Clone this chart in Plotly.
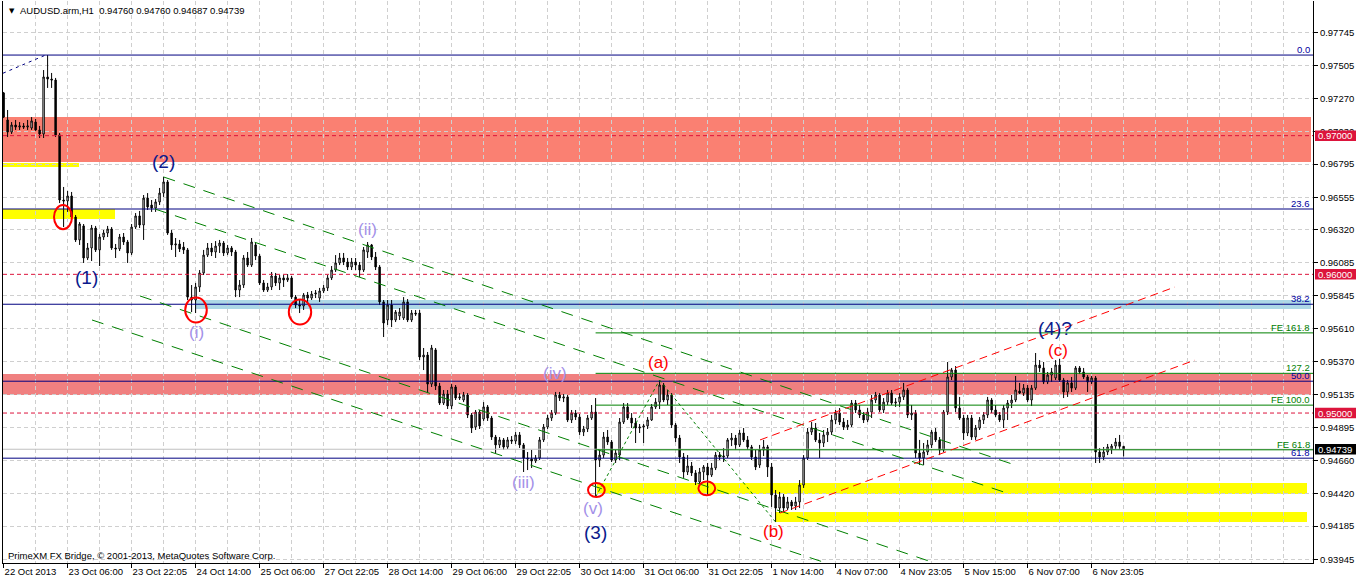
import plotly.graph_objects as go

# ---------------- data (AUDUSD H1) ----------------
opens = [
 0.97308, 0.97113, 0.97026, 0.97077, 0.97062, 0.97070, 0.97062, 0.97055,
 0.97098, 0.97041, 0.97012, 0.97423, 0.97408, 0.97401, 0.97005, 0.96536,
 0.96529, 0.96565, 0.96413, 0.96248, 0.96349, 0.96118, 0.96190, 0.96334,
 0.96176, 0.96269, 0.96298, 0.96327, 0.96190, 0.96183, 0.96269, 0.96233,
 0.96154, 0.96341, 0.96421, 0.96356, 0.96550, 0.96500, 0.96478, 0.96522,
 0.96586, 0.96666, 0.96298, 0.96212, 0.96219, 0.96197, 0.96176, 0.95836,
 0.95815, 0.95909, 0.96010, 0.96139, 0.96190, 0.96161, 0.96204, 0.96226,
 0.96154, 0.96190, 0.96161, 0.95887, 0.95923, 0.96118, 0.96067, 0.96212,
 0.96132, 0.95938, 0.95887, 0.95909, 0.95988, 0.95938, 0.95974, 0.95959,
 0.95974, 0.95836, 0.95779, 0.95772, 0.95851, 0.95829, 0.95858, 0.95829,
 0.95880, 0.95902, 0.95974, 0.96031, 0.96082, 0.96118, 0.96089, 0.96053,
 0.96089, 0.96067, 0.96031, 0.96161, 0.96212, 0.96125, 0.96053, 0.95801,
 0.95671, 0.95779, 0.95671, 0.95700, 0.95685, 0.95801, 0.95671, 0.95721,
 0.95721, 0.95404, 0.95418, 0.95209, 0.95455, 0.95195, 0.95072, 0.95137,
 0.95051, 0.95188, 0.95108, 0.95094, 0.95130, 0.94986, 0.94899, 0.95007,
 0.94957, 0.95044, 0.94964, 0.94827, 0.94770, 0.94806, 0.94755, 0.94806,
 0.94798, 0.94842, 0.94770, 0.94676, 0.94669, 0.94654, 0.94676, 0.94806,
 0.94899, 0.94964, 0.95000, 0.95130, 0.95108, 0.95116, 0.94950, 0.95000,
 0.94971, 0.94863, 0.94885, 0.94964, 0.95007, 0.94661, 0.94697, 0.94827,
 0.94791, 0.94661, 0.94697, 0.94935, 0.95044, 0.94964, 0.94928, 0.94892,
 0.94899, 0.94907, 0.94950, 0.95044, 0.95079, 0.95202, 0.95094, 0.95130,
 0.94914, 0.94820, 0.94683, 0.94575, 0.94618, 0.94568, 0.94503, 0.94575,
 0.94611, 0.94553, 0.94604, 0.94697, 0.94683, 0.94690, 0.94806, 0.94820,
 0.94770, 0.94856, 0.94806, 0.94755, 0.94683, 0.94625, 0.94734, 0.94755,
 0.94611, 0.94409, 0.94315, 0.94395, 0.94315, 0.94359, 0.94330, 0.94359,
 0.94481, 0.94676, 0.94863, 0.94892, 0.94806, 0.94784, 0.94842, 0.94863,
 0.94950, 0.95000, 0.94935, 0.94899, 0.94914, 0.95072, 0.95022, 0.94986,
 0.94950, 0.95007, 0.95094, 0.95130, 0.95022, 0.95079, 0.95144, 0.95072,
 0.95079, 0.95116, 0.95166, 0.94986, 0.95000, 0.94712, 0.94676, 0.94719,
 0.94770, 0.94863, 0.94806, 0.94734, 0.95007, 0.95260, 0.95310, 0.95036,
 0.94964, 0.94856, 0.94964, 0.94827, 0.94892, 0.94950, 0.94986, 0.95094,
 0.95022, 0.94986, 0.94950, 0.95036, 0.95072, 0.95094, 0.95159, 0.95144,
 0.95180, 0.95094, 0.95180, 0.95346, 0.95325, 0.95224, 0.95274, 0.95253,
 0.95346, 0.95238, 0.95152, 0.95217, 0.95180, 0.95325, 0.95296, 0.95260,
 0.95224, 0.95253, 0.94719, 0.94683, 0.94719, 0.94741, 0.94762, 0.94791,
 0.94760,
]
highs = [
 0.97315, 0.97185, 0.97098, 0.97113, 0.97098, 0.97091, 0.97113, 0.97134,
 0.97120, 0.97070, 0.97473, 0.97581, 0.97452, 0.97416, 0.97019, 0.96630,
 0.96601, 0.96594, 0.96428, 0.96377, 0.96363, 0.96226, 0.96356, 0.96349,
 0.96291, 0.96320, 0.96349, 0.96341, 0.96219, 0.96291, 0.96298, 0.96248,
 0.96363, 0.96442, 0.96457, 0.96572, 0.96586, 0.96536, 0.96543, 0.96623,
 0.96702, 0.96680, 0.96320, 0.96262, 0.96248, 0.96233, 0.96190, 0.95923,
 0.95938, 0.96031, 0.96176, 0.96226, 0.96226, 0.96240, 0.96248, 0.96240,
 0.96212, 0.96204, 0.96176, 0.95959, 0.96139, 0.96161, 0.96262, 0.96233,
 0.96147, 0.95959, 0.95938, 0.96017, 0.96010, 0.95995, 0.95995, 0.96002,
 0.95988, 0.95851, 0.95815, 0.95865, 0.95873, 0.95880, 0.95887, 0.95902,
 0.95923, 0.95995, 0.96060, 0.96139, 0.96154, 0.96154, 0.96118, 0.96118,
 0.96118, 0.96089, 0.96197, 0.96233, 0.96219, 0.96161, 0.96067, 0.95815,
 0.95815, 0.95815, 0.95743, 0.95757, 0.95836, 0.95822, 0.95743, 0.95743,
 0.95743, 0.95469, 0.95440, 0.95491, 0.95469, 0.95217, 0.95166, 0.95166,
 0.95209, 0.95202, 0.95144, 0.95152, 0.95144, 0.95000, 0.95022, 0.95022,
 0.95079, 0.95058, 0.94979, 0.94842, 0.94827, 0.94820, 0.94827, 0.94834,
 0.94863, 0.94863, 0.94784, 0.94719, 0.94734, 0.94697, 0.94827, 0.94921,
 0.94986, 0.95022, 0.95152, 0.95152, 0.95137, 0.95130, 0.95022, 0.95022,
 0.94993, 0.94907, 0.94986, 0.95058, 0.95108, 0.94734, 0.94863, 0.94878,
 0.94806, 0.94734, 0.94964, 0.95072, 0.95072, 0.95000, 0.94964, 0.94921,
 0.94921, 0.94971, 0.95065, 0.95108, 0.95238, 0.95217, 0.95166, 0.95144,
 0.94928, 0.94842, 0.94712, 0.94697, 0.94647, 0.94589, 0.94604, 0.94625,
 0.94640, 0.94640, 0.94719, 0.94719, 0.94748, 0.94820, 0.94856, 0.94842,
 0.94878, 0.94892, 0.94834, 0.94770, 0.94734, 0.94770, 0.94806, 0.94770,
 0.94640, 0.94445, 0.94431, 0.94416, 0.94395, 0.94373, 0.94395, 0.94517,
 0.94697, 0.94892, 0.94935, 0.94928, 0.94856, 0.94878, 0.94892, 0.94986,
 0.95022, 0.95036, 0.94964, 0.94950, 0.95094, 0.95094, 0.95058, 0.95007,
 0.95036, 0.95130, 0.95152, 0.95144, 0.95108, 0.95166, 0.95166, 0.95108,
 0.95144, 0.95217, 0.95180, 0.95058, 0.95022, 0.94806, 0.94784, 0.94806,
 0.94878, 0.94892, 0.94827, 0.95022, 0.95368, 0.95325, 0.95339, 0.95116,
 0.94986, 0.94986, 0.94986, 0.94914, 0.94971, 0.95007, 0.95116, 0.95108,
 0.95058, 0.95007, 0.95058, 0.95094, 0.95130, 0.95267, 0.95217, 0.95209,
 0.95202, 0.95202, 0.95433, 0.95382, 0.95368, 0.95296, 0.95325, 0.95382,
 0.95390, 0.95253, 0.95238, 0.95260, 0.95339, 0.95339, 0.95325, 0.95274,
 0.95267, 0.95267, 0.94748, 0.94755, 0.94777, 0.94777, 0.94820, 0.94842,
 0.94760,
]
lows = [
 0.97127, 0.96990, 0.97012, 0.97041, 0.97041, 0.97048, 0.97041, 0.97041,
 0.97034, 0.96983, 0.96983, 0.97344, 0.97344, 0.96990, 0.96514, 0.96341,
 0.96450, 0.96392, 0.96233, 0.96212, 0.96082, 0.96103, 0.96096, 0.96161,
 0.96060, 0.96248, 0.96269, 0.96176, 0.96118, 0.96168, 0.96212, 0.96082,
 0.96139, 0.96327, 0.96334, 0.96248, 0.96464, 0.96450, 0.96450, 0.96500,
 0.96558, 0.96284, 0.96176, 0.96125, 0.96161, 0.96147, 0.95815, 0.95728,
 0.95721, 0.95873, 0.95995, 0.96125, 0.96132, 0.96118, 0.96154, 0.96132,
 0.96139, 0.96132, 0.95836, 0.95836, 0.95902, 0.96053, 0.96053, 0.96103,
 0.95923, 0.95873, 0.95873, 0.95887, 0.95916, 0.95887, 0.95909, 0.95945,
 0.95822, 0.95757, 0.95721, 0.95743, 0.95801, 0.95815, 0.95829, 0.95801,
 0.95865, 0.95880, 0.95959, 0.96017, 0.96067, 0.96067, 0.96031, 0.96031,
 0.96031, 0.95981, 0.96017, 0.96118, 0.96103, 0.96031, 0.95779, 0.95548,
 0.95635, 0.95620, 0.95656, 0.95671, 0.95671, 0.95656, 0.95656, 0.95700,
 0.95382, 0.95310, 0.95144, 0.95188, 0.95166, 0.95058, 0.95058, 0.95029,
 0.95029, 0.95094, 0.95094, 0.95079, 0.94964, 0.94856, 0.94878, 0.94885,
 0.94943, 0.94943, 0.94806, 0.94712, 0.94748, 0.94734, 0.94741, 0.94777,
 0.94777, 0.94748, 0.94575, 0.94589, 0.94604, 0.94640, 0.94661, 0.94791,
 0.94885, 0.94943, 0.94986, 0.95087, 0.95079, 0.94935, 0.94928, 0.94950,
 0.94842, 0.94834, 0.94863, 0.94950, 0.94395, 0.94611, 0.94676, 0.94770,
 0.94647, 0.94640, 0.94661, 0.94921, 0.94950, 0.94892, 0.94784, 0.94856,
 0.94784, 0.94885, 0.94943, 0.95029, 0.95029, 0.95079, 0.95058, 0.94892,
 0.94791, 0.94640, 0.94532, 0.94553, 0.94546, 0.94481, 0.94481, 0.94517,
 0.94409, 0.94539, 0.94589, 0.94661, 0.94647, 0.94676, 0.94762, 0.94734,
 0.94755, 0.94791, 0.94734, 0.94661, 0.94589, 0.94604, 0.94690, 0.94539,
 0.94323, 0.94214, 0.94279, 0.94286, 0.94301, 0.94301, 0.94301, 0.94315,
 0.94460, 0.94661, 0.94842, 0.94791, 0.94676, 0.94755, 0.94791, 0.94842,
 0.94921, 0.94914, 0.94878, 0.94878, 0.94899, 0.95000, 0.94964, 0.94928,
 0.94935, 0.94964, 0.95072, 0.95007, 0.95000, 0.95058, 0.95058, 0.95044,
 0.95044, 0.95094, 0.94964, 0.94950, 0.94676, 0.94625, 0.94625, 0.94697,
 0.94748, 0.94791, 0.94697, 0.94719, 0.94986, 0.95238, 0.95007, 0.94950,
 0.94806, 0.94834, 0.94806, 0.94806, 0.94878, 0.94921, 0.94964, 0.95000,
 0.94971, 0.94935, 0.94892, 0.94950, 0.95036, 0.95079, 0.95137, 0.95123,
 0.95079, 0.95051, 0.95166, 0.95296, 0.95209, 0.95209, 0.95224, 0.95238,
 0.95224, 0.95108, 0.95116, 0.95152, 0.95166, 0.95281, 0.95245, 0.95152,
 0.95209, 0.94640, 0.94640, 0.94661, 0.94697, 0.94705, 0.94741, 0.94741,
 0.94687,
]
closes = [
 0.97134, 0.97026, 0.97077, 0.97062, 0.97070, 0.97062, 0.97070, 0.97106,
 0.97041, 0.97012, 0.97423, 0.97408, 0.97401, 0.97005, 0.96536, 0.96529,
 0.96565, 0.96413, 0.96248, 0.96363, 0.96118, 0.96190, 0.96334, 0.96176,
 0.96269, 0.96298, 0.96327, 0.96190, 0.96183, 0.96269, 0.96233, 0.96154,
 0.96341, 0.96421, 0.96356, 0.96550, 0.96486, 0.96478, 0.96522, 0.96586,
 0.96666, 0.96298, 0.96212, 0.96219, 0.96183, 0.96176, 0.95836, 0.95815,
 0.95909, 0.96010, 0.96139, 0.96190, 0.96161, 0.96204, 0.96226, 0.96154,
 0.96190, 0.96161, 0.95887, 0.95923, 0.96118, 0.96067, 0.96233, 0.96132,
 0.95938, 0.95887, 0.95909, 0.95988, 0.95938, 0.95974, 0.95959, 0.95974,
 0.95836, 0.95779, 0.95772, 0.95851, 0.95829, 0.95858, 0.95865, 0.95880,
 0.95902, 0.95974, 0.96031, 0.96082, 0.96118, 0.96089, 0.96053, 0.96089,
 0.96067, 0.96031, 0.96176, 0.96212, 0.96125, 0.96053, 0.95801, 0.95649,
 0.95779, 0.95671, 0.95728, 0.95728, 0.95801, 0.95671, 0.95721, 0.95714,
 0.95404, 0.95418, 0.95209, 0.95469, 0.95195, 0.95072, 0.95137, 0.95051,
 0.95188, 0.95108, 0.95116, 0.95130, 0.94986, 0.94892, 0.95007, 0.94907,
 0.95044, 0.94964, 0.94827, 0.94770, 0.94806, 0.94755, 0.94806, 0.94798,
 0.94842, 0.94770, 0.94676, 0.94669, 0.94654, 0.94676, 0.94806, 0.94899,
 0.94964, 0.95000, 0.95130, 0.95108, 0.95116, 0.94950, 0.95000, 0.94971,
 0.94863, 0.94885, 0.94964, 0.95007, 0.94661, 0.94697, 0.94827, 0.94791,
 0.94661, 0.94712, 0.94935, 0.95044, 0.94964, 0.94928, 0.94892, 0.94899,
 0.94907, 0.94950, 0.95044, 0.95079, 0.95202, 0.95094, 0.95130, 0.94914,
 0.94820, 0.94683, 0.94575, 0.94618, 0.94568, 0.94503, 0.94575, 0.94611,
 0.94553, 0.94604, 0.94697, 0.94683, 0.94690, 0.94806, 0.94820, 0.94770,
 0.94856, 0.94806, 0.94755, 0.94683, 0.94611, 0.94734, 0.94755, 0.94611,
 0.94409, 0.94315, 0.94395, 0.94315, 0.94359, 0.94330, 0.94359, 0.94481,
 0.94676, 0.94863, 0.94892, 0.94806, 0.94784, 0.94842, 0.94863, 0.94950,
 0.95000, 0.94935, 0.94899, 0.94914, 0.95072, 0.95022, 0.94986, 0.94950,
 0.95007, 0.95094, 0.95130, 0.95022, 0.95079, 0.95144, 0.95072, 0.95079,
 0.95116, 0.95166, 0.94986, 0.95000, 0.94712, 0.94676, 0.94719, 0.94770,
 0.94863, 0.94806, 0.94734, 0.95007, 0.95260, 0.95310, 0.95036, 0.94964,
 0.94856, 0.94964, 0.94827, 0.94892, 0.94950, 0.94986, 0.95094, 0.95022,
 0.94986, 0.94950, 0.95036, 0.95072, 0.95094, 0.95166, 0.95144, 0.95180,
 0.95094, 0.95180, 0.95346, 0.95325, 0.95224, 0.95274, 0.95296, 0.95346,
 0.95238, 0.95152, 0.95217, 0.95180, 0.95325, 0.95296, 0.95260, 0.95224,
 0.95253, 0.94719, 0.94683, 0.94719, 0.94755, 0.94762, 0.94791, 0.94760,
 0.94739,
]
bars = list(range(len(closes)))

time_labels = ["22 Oct 2013", "23 Oct 06:00", "23 Oct 22:05", "24 Oct 14:00",
               "25 Oct 06:00", "27 Oct 22:05", "28 Oct 14:00", "29 Oct 06:00",
               "29 Oct 22:05", "30 Oct 14:00", "31 Oct 06:00", "31 Oct 22:05",
               "1 Nov 14:00", "4 Nov 07:00", "4 Nov 23:05", "5 Nov 15:00",
               "6 Nov 07:00", "6 Nov 23:05"]
bars_per_label = 16
bars_per_grid = 8

price_ticks = [0.93945, 0.94185, 0.94420, 0.94660, 0.94895, 0.95135, 0.95370,
               0.95610, 0.95845, 0.96085, 0.96320, 0.96555, 0.96795, 0.97030,
               0.97270, 0.97505, 0.97745]

# Fibonacci retracement (0 / 100 anchors) and levels
fib_0, fib_100 = 0.97581, 0.92878
fib_levels = [0.0, 23.6, 38.2, 50.0, 61.8, 78.6]
fib_texts = ["0.0", "23.6", "38.2", "50.0", "61.8", "78.6"]
# Fibonacci expansion anchors: (v) low, (a) high, (b) low
fe_bars = [148, 164, 193]
fe_prices = [0.94395, 0.95238, 0.94214]
fe_levels = [61.8, 100.0, 127.2, 161.8]
fe_texts = ["FE 61.8", "FE 100.0", "127.2", "FE 161.8"]

round_levels = [0.97000, 0.96000, 0.95000]
title_text = "AUDUSD.arm,H1  0.94760 0.94760 0.94687 0.94739"
footer_text = "PrimeXM FX Bridge, \u00a9 2001-2013, MetaQuotes Software Corp."

# zones: [bar_from, bar_to, price_low, price_high]
salmon_zones = [[-0.15, 326.85, 0.96810, 0.97134]]
coral_zones = [[-0.15, 326.85, 0.95130, 0.95281]]
yellow_zones = [[-0.15, 18.85, 0.96774, 0.96803],
                [-0.15, 27.85, 0.96399, 0.96471],
                [148.35, 325.85, 0.94416, 0.94496],
                [192.9, 325.85, 0.94214, 0.94286]]
blue_zones = [[47.85, 326.85, 0.95750, 0.95815]]

# trend lines: [bar0, price0, bar1, price1]
green_channel = [[40.0, 0.96702, 253.6, 0.94618],
                 [37.85, 0.96471, 250.85, 0.94423],
                 [34.1, 0.95844, 240.0, 0.93849],
                 [22.1, 0.95671, 210.0, 0.93877]]
red_channel = [[189.1, 0.94806, 292.85, 0.95909],
               [194.1, 0.94279, 297.85, 0.95382]]
navy_dotted = [[-0.15, 0.97450, 10.5, 0.97581]]

# red circles: [bar_center, price_center, half_width_bars, half_height_price]
circles = [[14.85, 0.96413, 2.25, 0.00087],
           [48.1, 0.95743, 2.7, 0.00090],
           [74.1, 0.95728, 2.8, 0.00090],
           [148.2, 0.94445, 2.1, 0.00050],
           [175.8, 0.94457, 2.1, 0.00050]]

# Elliott wave labels: (text, bar, price)
primary_waves = [("(1)", 20.6, 0.95974), ("(2)", 39.85, 0.96812),
                 ("(3)", 147.85, 0.94142), ("(4)?", 262.85, 0.95611)]
minor_waves = [("(i)", 48.1, 0.95584), ("(ii)", 90.85, 0.96320),
               ("(iii)", 129.85, 0.94496), ("(iv)", 137.85, 0.95287),
               ("(v)", 147.4, 0.94313)]
abc_waves = [("(a)", 163.7, 0.95363), ("(b)", 192.4, 0.94144),
             ("(c)", 263.7, 0.95449)]

# ---------------- layout constants ----------------
W, H = 1356, 581
ML, MR, MT, MB = 3, 43, 1, 18
PLOT_W = W - ML - MR
X_LEFT, X_RIGHT = -0.15, 327.35
Y_MIN, Y_MAX = 0.939188, 0.979708
FONT = "Liberation Sans, Arial, sans-serif"
GRID = "#cfcfcf"
NAVY = "#000080"
GREEN = "#008000"
CRIMSON = "#DC143C"

def px_x(px):
    return (px - ML) / PLOT_W

def paper_y(price):
    return (price - Y_MIN) / (Y_MAX - Y_MIN)

fig = go.Figure()
fig.add_trace(go.Candlestick(
    x=bars, open=opens, high=highs, low=lows, close=closes,
    increasing=dict(line=dict(color="black", width=1), fillcolor="white"),
    decreasing=dict(line=dict(color="black", width=1), fillcolor="black"),
    whiskerwidth=0, hoverinfo="skip", showlegend=False))

shapes = []
def add_zone(z, color):
    shapes.append(dict(type="rect", xref="x", yref="y", x0=z[0], x1=z[1], y0=z[2], y1=z[3],
                       fillcolor=color, line=dict(width=0), layer="below"))
for z in salmon_zones:
    add_zone(z, "#FA8072")
for z in coral_zones:
    add_zone(z, "#F08080")
for z in yellow_zones:
    add_zone(z, "#FFFF00")
for z in blue_zones:
    add_zone(z, "#ADD8E6")

def add_line(x0, y0, x1, y1, color, dash="solid", width=1):
    shapes.append(dict(type="line", xref="x", yref="y", x0=x0, y0=y0, x1=x1, y1=y1,
                       line=dict(color=color, width=width, dash=dash), layer="above"))

# bid line
add_line(X_LEFT, closes[-1], X_RIGHT, closes[-1], "#c0c0c0")
# round-number levels
for p in round_levels:
    add_line(X_LEFT, p, X_RIGHT, p, CRIMSON, dash="4px,3px")
# fibonacci retracement
fib_prices = [fib_0 - lv / 100.0 * (fib_0 - fib_100) for lv in fib_levels]
for p in fib_prices:
    add_line(X_LEFT, p, X_RIGHT, p, NAVY)
# fibonacci expansion
fe_unit = fe_prices[1] - fe_prices[0]
fe_prices_lv = [fe_prices[2] + lv / 100.0 * fe_unit for lv in fe_levels]
for p in fe_prices_lv:
    add_line(fe_bars[0], p, X_RIGHT, p, GREEN)
for k in range(2):
    add_line(fe_bars[k], fe_prices[k], fe_bars[k + 1], fe_prices[k + 1], GREEN, dash="3px,3px")
# channels
for l in green_channel:
    add_line(l[0], l[1], l[2], l[3], GREEN, dash="12px,9px")
for l in red_channel:
    add_line(l[0], l[1], l[2], l[3], "#FF0000", dash="8px,5px")
for l in navy_dotted:
    add_line(l[0], l[1], l[2], l[3], NAVY, dash="3px,4px")
# circles
for c in circles:
    shapes.append(dict(type="circle", xref="x", yref="y",
                       x0=c[0] - c[2], x1=c[0] + c[2], y0=c[1] - c[3], y1=c[1] + c[3],
                       line=dict(color="#FF0000", width=2), layer="above"))

# price boxes on the right axis
box_half = 0.00038
box_prices = round_levels + [closes[-1]]
box_colors = [CRIMSON, CRIMSON, CRIMSON, "black"]
for p, col in zip(box_prices, box_colors):
    shapes.append(dict(type="rect", xref="paper", yref="paper",
                       x0=px_x(1315), x1=px_x(1356),
                       y0=paper_y(p - box_half), y1=paper_y(p + box_half),
                       fillcolor=col, line=dict(width=0), layer="above"))

ann = []
for p, col in zip(box_prices, box_colors):
    ann.append(dict(xref="paper", yref="paper", x=px_x(1335.5), y=paper_y(p),
                    text=f"{p:.5f}", showarrow=False, xanchor="center", yanchor="middle",
                    font=dict(family=FONT, size=9.5, color="white")))

for p, t in zip(fib_prices, fib_texts):
    ann.append(dict(xref="paper", yref="y", x=px_x(1311.5), y=p, text=t, showarrow=False,
                    xanchor="right", yanchor="bottom", yshift=-2,
                    font=dict(family=FONT, size=9.5, color="#0000a0")))
for p, t in zip(fe_prices_lv, fe_texts):
    ann.append(dict(xref="paper", yref="y", x=px_x(1311.5), y=p, text=t, showarrow=False,
                    xanchor="right", yanchor="bottom", yshift=-2,
                    font=dict(family=FONT, size=9.5, color=GREEN)))

for t, b, p in primary_waves:
    ann.append(dict(x=b, y=p, text=t, showarrow=False, xanchor="center", yanchor="middle",
                    font=dict(family=FONT, size=19, color="#0a1a8c")))
for t, b, p in minor_waves:
    ann.append(dict(x=b, y=p, text=t, showarrow=False, xanchor="center", yanchor="middle",
                    font=dict(family=FONT, size=17, color="#a390e8")))
for t, b, p in abc_waves:
    ann.append(dict(x=b, y=p, text=t, showarrow=False, xanchor="center", yanchor="middle",
                    font=dict(family=FONT, size=17, color="#FF0000")))

ann.append(dict(xref="paper", yref="paper", x=px_x(7), y=(563 - 10.5) / 562, text="\u25bc",
                showarrow=False, xanchor="left", yanchor="middle",
                font=dict(family="DejaVu Sans", size=7, color="black")))
ann.append(dict(xref="paper", yref="paper", x=px_x(18), y=(563 - 10.5) / 562, text=title_text,
                showarrow=False, xanchor="left", yanchor="middle",
                font=dict(family=FONT, size=9.5, color="black")))
ann.append(dict(xref="paper", yref="paper", x=px_x(6), y=(563 - 555) / 562, text=footer_text,
                showarrow=False, xanchor="left", yanchor="middle",
                font=dict(family=FONT, size=9.5, color="black")))

label_pos = [i * bars_per_label for i in range(len(time_labels))]
grid_pos = [g for g in range(0, int(X_RIGHT) + 1, bars_per_grid) if g not in label_pos]

fig.update_layout(
    width=W, height=H, autosize=False,
    margin=dict(l=ML, r=MR, t=MT, b=MB, pad=0),
    paper_bgcolor="white", plot_bgcolor="white",
    showlegend=False, boxgap=0.5,
    shapes=shapes, annotations=ann,
    xaxis=dict(range=[X_LEFT, X_RIGHT], rangeslider=dict(visible=False),
               tickmode="array", tickvals=label_pos, ticktext=time_labels,
               ticks="outside", ticklen=4, tickcolor="black",
               ticklabelposition="outside right",
               tickfont=dict(family=FONT, size=9.5, color="black"),
               showgrid=True, gridcolor=GRID, griddash="4px,3px", gridwidth=1,
               minor=dict(tickmode="array", tickvals=grid_pos, showgrid=True,
                          gridcolor=GRID, griddash="4px,3px", ticks=""),
               showline=True, linecolor="black", linewidth=1, zeroline=False,
               fixedrange=True),
    yaxis=dict(range=[Y_MIN, Y_MAX], side="right",
               tickmode="array", tickvals=price_ticks,
               ticktext=[f"{v:.5f}" for v in price_ticks],
               ticks="outside", ticklen=4, tickcolor="black",
               tickfont=dict(family=FONT, size=9.5, color="black"),
               showgrid=True, gridcolor=GRID, griddash="4px,3px", gridwidth=1,
               showline=True, mirror=True, linecolor="black", linewidth=1,
               zeroline=False, fixedrange=True),
)

fig.write_html("out.html", config={"displayModeBar": False},
               post_script="document.body.style.margin='0';document.body.style.overflow='hidden';")
